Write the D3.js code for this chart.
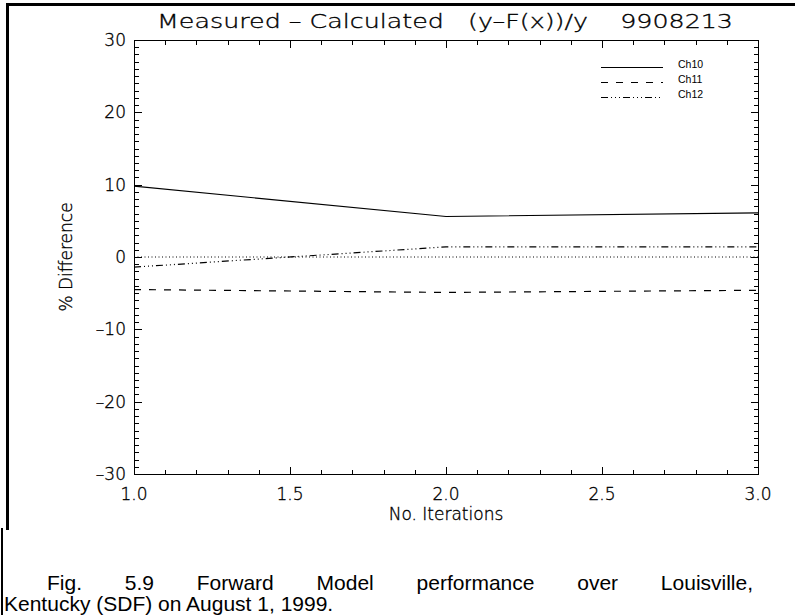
<!DOCTYPE html>
<html>
<head>
<meta charset="utf-8">
<script src="https://cdn.jsdelivr.net/npm/d3@7"></script>
<style>
  body { margin: 0; background: #fff; }
  svg { display: block; }
  .hershey { font-family: 'DejaVu Sans', sans-serif; font-weight: 200; fill: #000; stroke: #000; stroke-width: 0.35px; }
  .caption { font-family: 'Liberation Sans Narrow', 'Liberation Sans', Arial, sans-serif; fill: #000; }
</style>
</head>
<body>
<div id="chart"></div>
<script>
// values
const iterations = [1, 2, 3];
const ch10 = [9.8, 5.6, 6.1];
const ch11 = [-4.5, -4.9, -4.6];
const ch12 = [-1.4, 1.4, 1.4];
const seriesNames = ['Ch10', 'Ch11', 'Ch12'];
const xTicks = [1.0, 1.5, 2.0, 2.5, 3.0];
const yTicks = [-30, -20, -10, 0, 10, 20, 30];
const title = 'Measured \u2013 Calculated   (y\u2013F(x))/y    9908213';
const xTitle = 'No. Iterations';
const yTitle = '% Difference';
const caption1 = 'Fig. 5.9  Forward Model performance over Louisville,';
const caption2 = 'Kentucky (SDF) on August 1, 1999.';

const W = 795, H = 615;
const plot = { left: 134, right: 758, top: 40, bottom: 474 };
const dashes = ['none', '7,8', '7,3,1,3,1,3,1,3'];

const svg = d3.select('#chart').append('svg')
    .attr('width', W)
    .attr('height', H);

const x = d3.scaleLinear().domain([1, 3]).range([plot.left, plot.right]);
const y = d3.scaleLinear().domain([-30, 30]).range([plot.bottom, plot.top]);

const xMinor = d3.range(10, 31).map(d => d / 10);
const yMinor = d3.range(-30, 31);

// page frame
svg.append('rect').attr('x', 6).attr('y', 3).attr('width', W - 6).attr('height', 3).attr('fill', '#000');
svg.append('rect').attr('x', 6).attr('y', 3).attr('width', 3).attr('height', 527).attr('fill', '#000');
svg.append('rect').attr('x', 1).attr('y', 528).attr('width', 2).attr('height', H - 528).attr('fill', '#000');

// tick labels
svg.append('g').selectAll('text')
  .data(xTicks)
  .join('text')
    .attr('class', 'hershey')
    .attr('x', d => x(d)).attr('y', 500)
    .attr('text-anchor', 'middle')
    .style('font-size', '17px')
    .text(d3.format('.1f'));

svg.append('g').selectAll('text')
  .data(yTicks)
  .join('text')
    .attr('class', 'hershey')
    .attr('x', plot.left - 8).attr('y', d => y(d))
    .attr('dy', '0.36em')
    .attr('text-anchor', 'end')
    .style('font-size', '17px')
    .text(d => d < 0 ? '\u2013' + Math.abs(d) : d);

// box
svg.append('rect')
    .attr('x', plot.left + 0.5).attr('y', plot.top + 0.5)
    .attr('width', plot.right - plot.left).attr('height', plot.bottom - plot.top)
    .attr('fill', 'none').attr('stroke', '#000');

// zero reference
svg.append('line')
    .attr('x1', x(1)).attr('x2', x(3)).attr('y1', y(0)).attr('y2', y(0))
    .attr('stroke', '#000').attr('stroke-dasharray', '1,2.5');

// series
const line = d3.line()
    .x((d, i) => x(iterations[i]))
    .y(d => y(d));

[ch10, ch11, ch12].forEach((s, i) => {
  svg.append('path')
      .datum(s)
      .attr('d', line)
      .attr('fill', 'none')
      .attr('stroke', '#000')
      .attr('stroke-width', 1.2)
      .attr('stroke-dasharray', dashes[i]);
});

// legend
seriesNames.forEach((name, i) => {
  const ly = 67.5 + i * 15;
  svg.append('line')
      .attr('x1', 601).attr('x2', 663).attr('y1', ly).attr('y2', ly)
      .attr('stroke', '#000').attr('stroke-width', 1.2)
      .attr('stroke-dasharray', dashes[i]);
  svg.append('text')
      .attr('x', 678).attr('y', ly)
      .attr('font-family', 'Liberation Sans, Arial, sans-serif')
      .attr('font-size', 10.5)
      .text(name);
});

// titles
svg.append('text')
    .attr('class', 'hershey')
    .attr('x', 157).attr('y', 28)
    .attr('textLength', 576).attr('lengthAdjust', 'spacingAndGlyphs')
    .style('font-size', '20px')
    .style('white-space', 'pre')
    .text(title);

svg.append('text')
    .attr('class', 'hershey')
    .attr('x', (plot.left + plot.right) / 2).attr('y', 520)
    .attr('text-anchor', 'middle')
    .style('font-size', '17px')
    .text(xTitle);

svg.append('text')
    .attr('class', 'hershey')
    .attr('transform', `translate(66,${y(0)}) rotate(-90)`)
    .attr('dy', '0.36em')
    .attr('text-anchor', 'middle')
    .style('font-size', '17px')
    .text(yTitle);

// caption, first line justified by widening the word gaps
const cap1 = svg.append('text')
    .attr('class', 'caption')
    .attr('x', 47).attr('y', 590)
    .style('font-size', '21px')
    .text(caption1);
const natural = cap1.node().getComputedTextLength();
const gaps = caption1.split(' ').length - 1;
cap1.style('word-spacing', `${(743 - natural) / gaps}px`);

svg.append('text')
    .attr('class', 'caption')
    .attr('x', 4).attr('y', 611)
    .style('font-size', '21px')
    .text(caption2);

// tick marks as small filled bars, pointing inward on all four sides
const isMajorX = d => xTicks.some(t => Math.abs(t - d) < 1e-6);
const tickG = svg.append('g').attr('fill', '#000');

tickG.selectAll('rect.xb')
  .data(xMinor)
  .join('rect')
    .attr('class', 'xb')
    .attr('x', d => Math.round(x(d)))
    .attr('y', d => plot.bottom - (isMajorX(d) ? 7 : 4))
    .attr('width', 1)
    .attr('height', d => isMajorX(d) ? 7 : 4);

tickG.selectAll('rect.xt')
  .data(xMinor)
  .join('rect')
    .attr('class', 'xt')
    .attr('x', d => Math.round(x(d)))
    .attr('y', plot.top + 1)
    .attr('width', 1)
    .attr('height', d => isMajorX(d) ? 7 : 4);

tickG.selectAll('rect.yl')
  .data(yMinor)
  .join('rect')
    .attr('class', 'yl')
    .attr('x', plot.left + 1)
    .attr('y', d => Math.round(y(d)))
    .attr('width', d => yTicks.includes(d) ? 7 : 4)
    .attr('height', 1);

tickG.selectAll('rect.yr')
  .data(yMinor)
  .join('rect')
    .attr('class', 'yr')
    .attr('x', d => plot.right - (yTicks.includes(d) ? 7 : 4))
    .attr('y', d => Math.round(y(d)))
    .attr('width', d => yTicks.includes(d) ? 7 : 4)
    .attr('height', 1);
</script>
</body>
</html>
